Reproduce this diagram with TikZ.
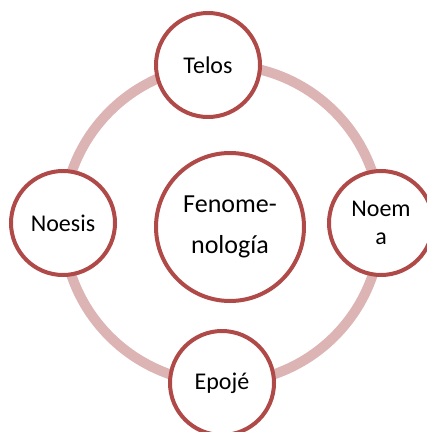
\documentclass[tikz,border=0pt]{standalone}
\usepackage{fontspec}
\setmainfont{Carlito}
\definecolor{ringred}{HTML}{DDB4B4}
\definecolor{darkred}{HTML}{B04A48}
\begin{document}
\begin{tikzpicture}[x=0.75pt, y=-0.75pt, thick,
                    main/.style = {draw=darkred, line width=3pt, circle, fill=white, minimum size=78pt, inner sep=0pt, align=center, font=\fontsize{18}{20.5}\selectfont},
                    hub/.style = {main, minimum size=111pt, font=\fontsize{19.5}{31}\selectfont}]
                    \useasboundingbox (0,0) rectangle (426,432);
                    \coordinate (c) at (222,224);
                    \draw[ringred, line width=7.5pt] (c) circle[radius=159*0.75pt];
                    \node[hub] (0) at (230,227) {Fenome-\\nología};
                    \node[main] (1) at (208,65) {Telos};
                    \node[main] (2) at (381,223) {Noem\\a};
                    \node[main] (3) at (222,383) {Epojé};
                    \node[main] (4) at (63,223) {Noesis};
                \end{tikzpicture}
\end{document}
